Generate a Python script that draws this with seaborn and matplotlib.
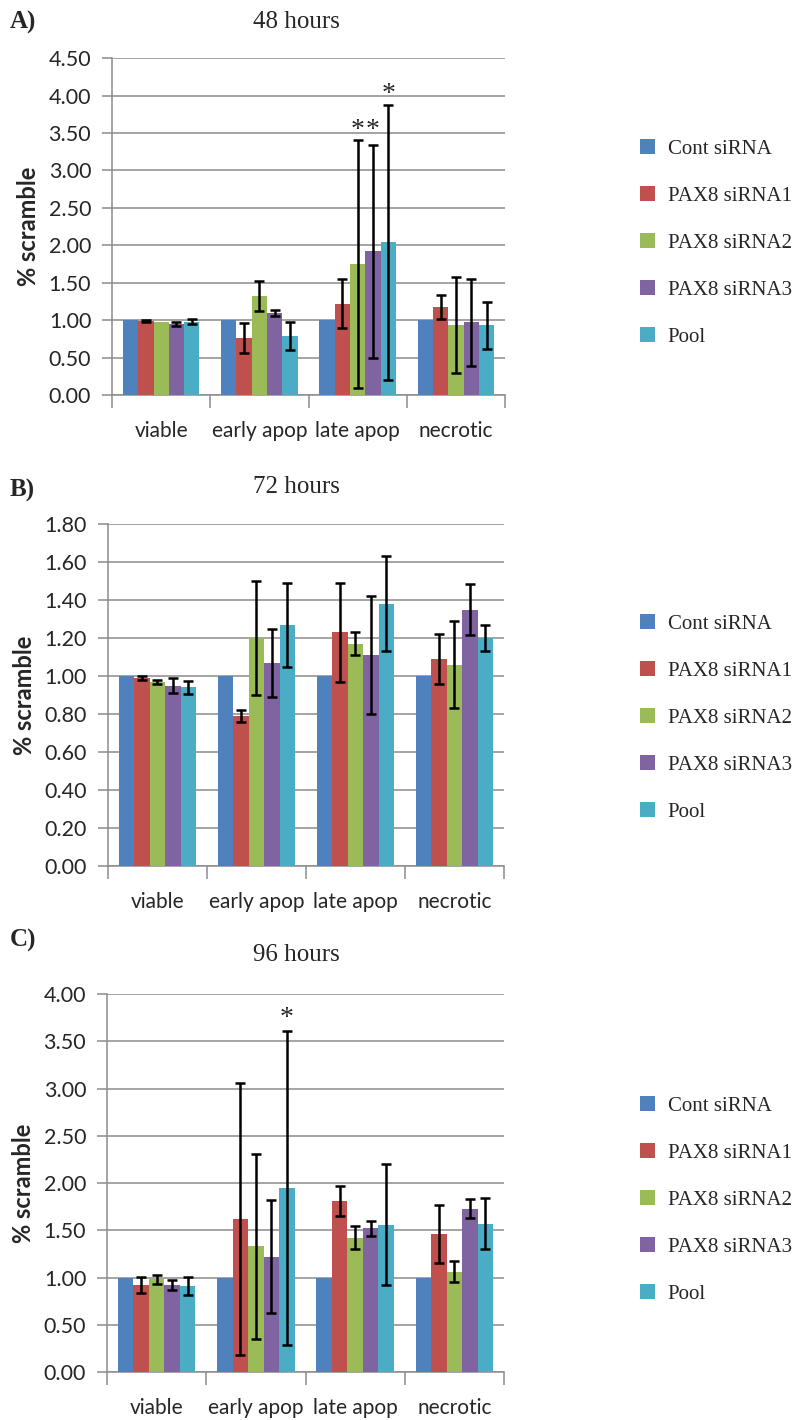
import numpy as np
import pandas as pd
import matplotlib
matplotlib.use("Agg")
import matplotlib.pyplot as plt
import seaborn as sns

categories = ['viable', 'early apop', 'late apop', 'necrotic']
groups = ['Cont siRNA', 'PAX8 siRNA1', 'PAX8 siRNA2', 'PAX8 siRNA3', 'Pool']
colors = ['#4F81BD', '#C0504D', '#9BBB59', '#8064A2', '#4BACC6']

# values per group, in category order
vals_48 = {
    'Cont siRNA':  [1.00, 1.00, 1.00, 1.00],
    'PAX8 siRNA1': [0.99, 0.76, 1.22, 1.17],
    'PAX8 siRNA2': [0.97, 1.32, 1.75, 0.93],
    'PAX8 siRNA3': [0.95, 1.09, 1.92, 0.97],
    'Pool':        [0.98, 0.79, 2.04, 0.93],
}
err_48 = {
    'Cont siRNA':  [0, 0, 0, 0],
    'PAX8 siRNA1': [0.01, 0.20, 0.33, 0.16],
    'PAX8 siRNA2': [0, 0.20, 1.66, 0.64],
    'PAX8 siRNA3': [0.03, 0.04, 1.42, 0.58],
    'Pool':        [0.03, 0.19, 1.84, 0.31],
}
vals_72 = {
    'Cont siRNA':  [1.00, 1.00, 1.00, 1.00],
    'PAX8 siRNA1': [0.99, 0.79, 1.23, 1.09],
    'PAX8 siRNA2': [0.97, 1.20, 1.17, 1.06],
    'PAX8 siRNA3': [0.95, 1.07, 1.11, 1.35],
    'Pool':        [0.94, 1.27, 1.38, 1.20],
}
err_72 = {
    'Cont siRNA':  [0, 0, 0, 0],
    'PAX8 siRNA1': [0.01, 0.034, 0.26, 0.13],
    'PAX8 siRNA2': [0.01, 0.30, 0.06, 0.23],
    'PAX8 siRNA3': [0.04, 0.18, 0.31, 0.135],
    'Pool':        [0.034, 0.22, 0.25, 0.068],
}
vals_96 = {
    'Cont siRNA':  [1.00, 1.00, 1.00, 1.00],
    'PAX8 siRNA1': [0.92, 1.62, 1.81, 1.46],
    'PAX8 siRNA2': [0.98, 1.33, 1.42, 1.06],
    'PAX8 siRNA3': [0.92, 1.22, 1.52, 1.73],
    'Pool':        [0.91, 1.95, 1.56, 1.57],
}
err_96 = {
    'Cont siRNA':  [0, 0, 0, 0],
    'PAX8 siRNA1': [0.085, 1.44, 0.155, 0.31],
    'PAX8 siRNA2': [0.045, 0.98, 0.12, 0.11],
    'PAX8 siRNA3': [0.055, 0.60, 0.08, 0.097],
    'Pool':        [0.095, 1.66, 0.64, 0.27],
}

# significance stars: (group, category, y)
stars_48 = [('PAX8 siRNA2', 'late apop', 3.53), ('PAX8 siRNA3', 'late apop', 3.53),
            ('Pool', 'late apop', 4.02)]
stars_96 = [('Pool', 'early apop', 3.74)]

panels = [
    dict(vals=vals_48, err=err_48, stars=stars_48, title='48 hours', tag='A)',
         ylim=4.5, step=0.5, rect=[0.1404, 0.7218, 0.4925, 0.2373],
         title_y=1 - 22 / 1420, tag_y=1 - 22 / 1420, leg_y=1 - 243 / 1420),
    dict(vals=vals_72, err=err_72, stars=[], title='72 hours', tag='B)',
         ylim=1.8, step=0.2, rect=[0.1353, 0.3901, 0.4962, 0.2408],
         title_y=1 - 487 / 1420, tag_y=1 - 490 / 1420, leg_y=1 - 718 / 1420),
    dict(vals=vals_96, err=err_96, stars=stars_96, title='96 hours', tag='C)',
         ylim=4.0, step=0.5, rect=[0.1341, 0.0338, 0.4975, 0.2662],
         title_y=1 - 955 / 1420, tag_y=1 - 940 / 1420, leg_y=1 - 1200 / 1420),
]

sns.set_style("white")
plt.rcParams['font.family'] = ['Lato', 'DejaVu Sans']
serif = 'Liberation Serif'
grid_c = '#8c8c8c'

fig = plt.figure(figsize=(7.98, 14.2), dpi=100)

for p in panels:
    ax = fig.add_axes(p['rect'])
    df = pd.DataFrame([(c, g, p['vals'][g][i]) for g in groups
                       for i, c in enumerate(categories)],
                      columns=['Category', 'Group', 'Value'])
    sns.barplot(data=df, x='Category', y='Value', hue='Group', order=categories,
                hue_order=groups, palette=colors, width=0.78, gap=0,
                errorbar=None, saturation=1, linewidth=0, edgecolor='none',
                ax=ax, zorder=3)

    # error bars on the bar centres
    for g, cont in zip(groups, ax.containers):
        for i, bar in enumerate(cont):
            e = p['err'][g][i]
            if e > 0:
                ax.errorbar(bar.get_x() + bar.get_width() / 2, bar.get_height(),
                            yerr=e, fmt='none', ecolor='black', elinewidth=1.8,
                            capsize=3.8, capthick=1.8, zorder=4)
    for g, c, y in p['stars']:
        bar = ax.containers[groups.index(g)][categories.index(c)]
        ax.text(bar.get_x() + bar.get_width() / 2, y, '*', ha='center',
                va='center', fontsize=20, family=serif)

    ax.set_ylim(0, p['ylim'])
    ax.set_xlim(-0.5, 3.5)
    ax.set_yticks(np.arange(0, p['ylim'] + 1e-6, p['step']))
    ax.set_yticklabels(['%.2f' % t for t in ax.get_yticks()], fontsize=15.5)
    ax.yaxis.grid(True, color=grid_c, linewidth=1.1, zorder=0)
    ax.set_axisbelow(True)

    ax.set_xticks([-0.5, 0.5, 1.5, 2.5, 3.5])
    ax.set_xticklabels([])
    ax.set_xticks([0, 1, 2, 3], minor=True)
    ax.set_xticklabels(categories, minor=True, fontsize=15)
    ax.tick_params(axis='x', which='major', length=9, color=grid_c, width=1.1,
                   direction='out', bottom=True)
    ax.tick_params(axis='x', which='minor', length=0, pad=19)
    ax.tick_params(axis='y', length=7, color=grid_c, width=1.1, direction='out',
                   left=True, pad=8)
    ax.set_xlabel('')
    ax.set_ylabel('% scramble', fontsize=17, fontweight='bold', labelpad=6)

    sns.despine(ax=ax)
    for s in ['left', 'bottom']:
        ax.spines[s].set_color(grid_c)
        ax.spines[s].set_linewidth(1.1)

    handles, labels = ax.get_legend_handles_labels()
    ax.get_legend().remove()
    fig.legend(handles, labels, loc='center left',
               bbox_to_anchor=(0.778, p['leg_y']), frameon=False,
               prop={'family': serif, 'size': 15}, handlelength=0.75,
               handleheight=0.75, handletextpad=0.6, labelspacing=1.3)

    fig.text(0.371, p['title_y'], p['title'], ha='center', va='center',
             fontsize=18, family=serif)
    fig.text(0.012, p['tag_y'], p['tag'], ha='left', va='center',
             fontsize=18, family=serif, fontweight='bold')

fig.savefig('out.png', dpi=100)
